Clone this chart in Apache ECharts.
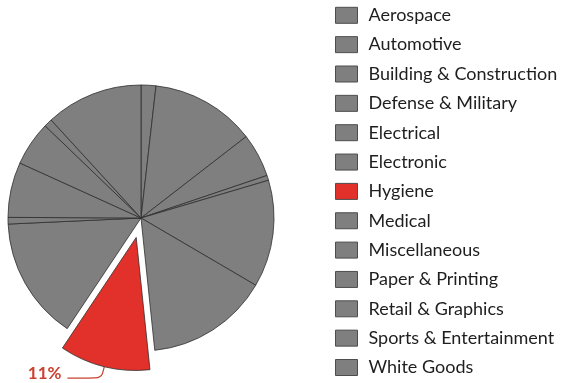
<!DOCTYPE html>
<html>
<head>
<meta charset="utf-8">
<script src="https://cdn.jsdelivr.net/npm/echarts@6/dist/echarts.min.js"></script>
<style>
  html, body { margin: 0; padding: 0; background: #ffffff; }
  #chart { width: 563px; height: 383px; }
</style>
</head>
<body>
<div id="chart"></div>
<script>
// Market share by application sector (%)
const sectors = [
  'Aerospace', 'Automotive', 'Building & Construction', 'Defense & Military',
  'Electrical', 'Electronic', 'Hygiene', 'Medical', 'Miscellaneous',
  'Paper & Printing', 'Retail & Graphics', 'Sports & Entertainment', 'White Goods'
];
const shares = [1.8, 12.7, 5.3, 0.6, 13.0, 14.9, 11.0, 14.9, 0.8, 6.7, 5.4, 1.0, 11.8];
const highlighted = 'Hygiene';

const GREY = '#7f7f7f';
const RED = '#e2302a';

const chart = echarts.init(document.getElementById('chart'), null, { renderer: 'canvas' });

const data = sectors.map((name, i) => {
  const hot = name === highlighted;
  return {
    name: name,
    value: shares[i],
    selected: hot,
    itemStyle: { color: hot ? RED : GREY },
    label: { show: hot },
    labelLine: { show: hot }
  };
});

chart.setOption({
  animation: false,
  backgroundColor: '#ffffff',
  legend: {
    orient: 'vertical',
    left: 335,
    top: 6.3,
    padding: 0,
    itemWidth: 22,
    itemHeight: 16,
    itemGap: 11.35,
    icon: 'rect',
    selectedMode: false,
    itemStyle: { borderColor: '#4d4d4d', borderWidth: 1 },
    textStyle: {
      fontFamily: 'Lato',
      fontSize: 18,
      color: '#1e1e1e',
      padding: [0, 0, 0, 6]
    },
    data: sectors
  },
  series: [{
    type: 'pie',
    center: [141, 218],
    radius: 133,
    startAngle: 90,
    clockwise: true,
    selectedMode: 'single',
    selectedOffset: 20,
    avoidLabelOverlap: false,
    itemStyle: { borderColor: '#2e2e2e', borderWidth: 0.8 },
    emphasis: { disabled: true },
    select: { itemStyle: { borderColor: '#2e2e2e', borderWidth: 0.8 } },
    label: {
      position: 'outside',
      formatter: p => Math.round(p.percent) + '%',
      fontFamily: 'Lato',
      fontWeight: 'bold',
      fontSize: 17,
      color: '#c9412f',
      distanceToLabelLine: 6
    },
    labelLine: {
      length: 12,
      length2: 34,
      smooth: 0.3,
      lineStyle: { color: '#c9412f', width: 1.2 }
    },
    // lift the percentage text a little above its leader line
    labelLayout: { dy: -5 },
    data: data
  }]
});
</script>
</body>
</html>
